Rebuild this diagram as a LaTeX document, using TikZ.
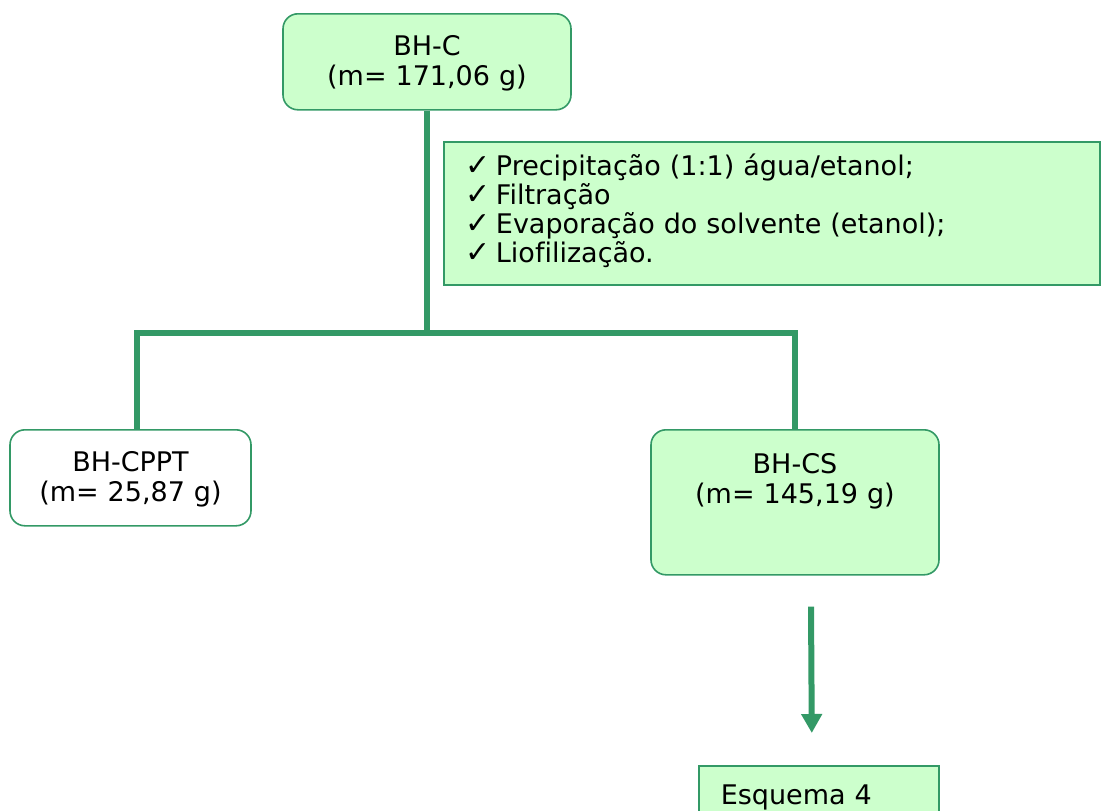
\documentclass[tikz,border=0pt]{standalone}
\usepackage{fontspec}
\setmainfont[Ligatures=CommonOff]{DejaVu Sans}
\usepackage{tikz}
\usetikzlibrary{arrows.meta,positioning}
\definecolor{sea}{HTML}{339966}
\definecolor{mint}{HTML}{CCFFCC}
\newcommand\chk{{\fontsize{30pt}{30pt}\selectfont ✓}\hspace{5pt}}

\begin{document}
\begin{tikzpicture}[
  x=1pt, y=-1pt,
  font=\fontsize{27pt}{30pt}\selectfont,
  mass/.style={draw=sea, line width=1.6pt, rounded corners=15pt, fill=mint, anchor=north,
    align=center, inner sep=0pt, text width=#1, text height=42pt, text depth=54pt},
  stepbox/.style={draw=sea, line width=1.6pt, fill=mint, anchor=north west, align=left,
    font=\fontsize{27pt}{29pt}\selectfont, inner xsep=22pt, inner ysep=0pt,
    text width=612pt, text height=34pt, text depth=109pt},
  note/.style={draw=sea, line width=1.6pt, fill=mint, anchor=north west, align=left,
    inner xsep=22pt, inner ysep=0pt, text width=196pt, text height=39pt, text depth=40pt},
  trunk/.style={draw=sea, line width=6pt},
  flow/.style={-{Triangle[width=20pt,length=19pt]}, draw=sea, line width=6pt}
]
\useasboundingbox (0,0) rectangle (1101,811);
\clip (0,0) rectangle (1101,811);

\node[mass=288pt] (bhc) at (427,13) {BH-C\\(m= 171,06 g)};
\node[stepbox] (steps) at (443,141) {\chk Precipitação (1:1) água/etanol;\\
  \chk Filtração\\
  \chk Evaporação do solvente (etanol);\\
  \chk Liofilização.};
\node[mass=241pt, fill=white] (cppt) at (130.5,429) {BH-CPPT\\(m= 25,87 g)};
\node[mass=288pt, text height=44pt, text depth=101pt] (cs) at (795,429) {BH-CS\\(m= 145,19 g)};
\node[note] (esq) at (698,765) {Esquema 4};

\coordinate (split) at (427,333);
\draw[trunk] (bhc) -- (split);
\draw[trunk] ([xshift=6.5pt]cppt.north) |- (split) -| (cs.north);
\draw[flow] ([xshift=16pt,yshift=-31pt]cs.south) -- ([xshift=-7pt,yshift=32pt]esq.north);
\end{tikzpicture}
\end{document}
